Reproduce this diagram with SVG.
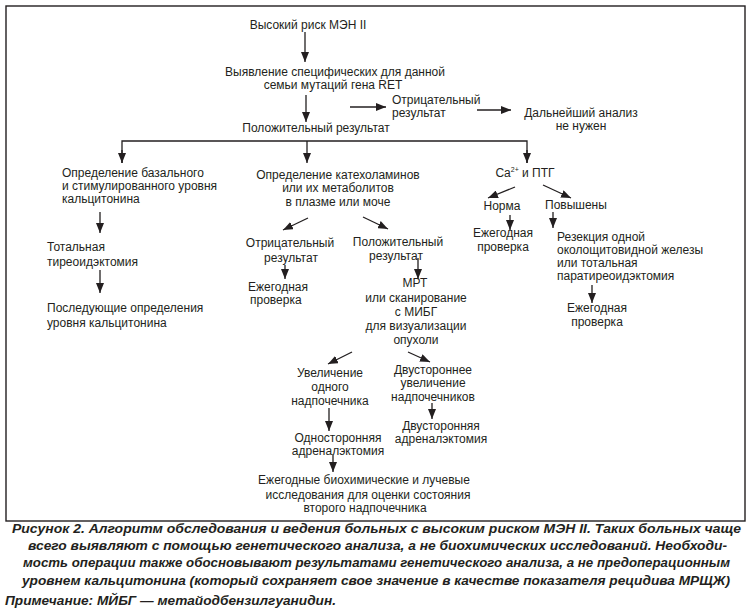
<svg xmlns="http://www.w3.org/2000/svg" width="751" height="614" viewBox="0 0 751 614">
<style>
.t{font-family:"Liberation Sans",Arial,sans-serif;font-size:12px;fill:#231f20}
.m{text-anchor:middle}
.c{font-family:"Liberation Sans",Arial,sans-serif;font-size:13.5px;font-weight:bold;font-style:italic;fill:#231f20}
.ln{stroke:#231f20;stroke-width:1.3;fill:none}
</style>
<defs>
<marker id="ah" viewBox="0 0 10 8" refX="10" refY="4" markerWidth="10" markerHeight="8" markerUnits="userSpaceOnUse" orient="auto">
<path d="M0,0 L10,4 L0,8 z" fill="#231f20"/>
</marker>
</defs>
<rect x="6" y="6" width="739" height="515" fill="none" stroke="#231f20" stroke-width="1.4"/>
<g id="connectors" class="ln" marker-end="url(#ah)">
<line x1="305" y1="32" x2="305" y2="62"/>
<line x1="306" y1="95" x2="306" y2="122"/>
<line x1="350" y1="107" x2="386" y2="107"/>
<line x1="477" y1="110" x2="511" y2="110"/>
<polyline points="122,163 122,141 527,141 527,163" marker-end="none"/>
<line x1="122" y1="150" x2="122" y2="163"/>
<line x1="527" y1="150" x2="527" y2="163"/>
<line x1="307" y1="141" x2="307" y2="163"/>
<line x1="100" y1="212" x2="100" y2="233"/>
<line x1="100" y1="270" x2="100" y2="293"/>
<line x1="308" y1="218" x2="283" y2="230"/>
<line x1="363" y1="217" x2="388" y2="229"/>
<line x1="285" y1="265" x2="285" y2="279"/>
<line x1="418" y1="258" x2="418" y2="279"/>
<line x1="352" y1="352" x2="328" y2="364"/>
<line x1="408" y1="352" x2="430" y2="362"/>
<line x1="432" y1="403" x2="432" y2="419"/>
<line x1="329" y1="408" x2="329" y2="431"/>
<line x1="333" y1="455" x2="333" y2="472"/>
<line x1="515" y1="187" x2="488" y2="198"/>
<line x1="543" y1="185" x2="571" y2="198"/>
<line x1="510" y1="215" x2="510" y2="230"/>
<line x1="553" y1="212" x2="553" y2="228"/>
<line x1="592" y1="285" x2="592" y2="303"/>
</g>
<g id="n-risk"><text class="t m" x="308" y="29">Высокий риск МЭН II</text></g>
<g id="n-ret"><text class="t m" x="335" y="76">Выявление специфических для данной</text><text class="t m" x="333" y="89">семьи мутаций гена RET</text></g>
<g id="n-neg1"><text class="t" x="392" y="104">Отрицательный</text><text class="t" x="392" y="117">результат</text></g>
<g id="n-nofurther"><text class="t m" x="581" y="117">Дальнейший анализ</text><text class="t m" x="581" y="130">не нужен</text></g>
<g id="n-pos1"><text class="t m" x="316" y="132">Положительный результат</text></g>
<g id="n-calc"><text class="t" x="62" y="177">Определение базального</text><text class="t" x="62" y="190">и стимулированного уровня</text><text class="t" x="62" y="203">кальцитонина</text></g>
<g id="n-thyr"><text class="t" x="47" y="251">Тотальная</text><text class="t" x="47" y="266">тиреоидэктомия</text></g>
<g id="n-follow"><text class="t" x="47" y="312">Последующие определения</text><text class="t" x="47" y="327">уровня кальцитонина</text></g>
<g id="n-cat"><text class="t m" x="338" y="179">Определение катехоламинов</text><text class="t m" x="338" y="192">или их метаболитов</text><text class="t m" x="338" y="206">в плазме или моче</text></g>
<g id="n-neg2"><text class="t m" x="290" y="247">Отрицательный</text><text class="t m" x="291" y="262">результат</text></g>
<g id="n-annual1"><text class="t" x="248" y="291">Ежегодная</text><text class="t" x="250" y="304">проверка</text></g>
<g id="n-pos2"><text class="t m" x="398" y="246">Положительный</text><text class="t m" x="396" y="260">результат</text></g>
<g id="n-mri"><text class="t m" x="415" y="287">МРТ</text><text class="t m" x="416" y="302">или сканирование</text><text class="t m" x="416" y="316">с МИБГ</text><text class="t m" x="416" y="330">для визуализации</text><text class="t m" x="416" y="344">опухоли</text></g>
<g id="n-uni"><text class="t m" x="330" y="377">Увеличение</text><text class="t m" x="330" y="391">одного</text><text class="t m" x="330" y="405">надпочечника</text></g>
<g id="n-bi"><text class="t m" x="433" y="374">Двустороннее</text><text class="t m" x="433" y="387">увеличение</text><text class="t m" x="433" y="401">надпочечников</text></g>
<g id="n-biadr"><text class="t m" x="441" y="430">Двусторонняя</text><text class="t m" x="441" y="443">адреналэктомия</text></g>
<g id="n-uniadr"><text class="t m" x="338" y="442">Односторонняя</text><text class="t m" x="338" y="455">адреналэктомия</text></g>
<g id="n-annual2"><text class="t m" x="364" y="484">Ежегодные биохимические и лучевые</text><text class="t m" x="368" y="499">исследования для оценки состояния</text><text class="t m" x="365" y="512">второго надпочечника</text></g>
<g id="n-ca"><text class="t m" x="525" y="177">Ca<tspan font-size="7" dy="-5">2+</tspan><tspan dy="5"> и ПТГ</tspan></text></g>
<g id="n-norm"><text class="t m" x="502" y="210">Норма</text></g>
<g id="n-annual3"><text class="t m" x="503" y="237">Ежегодная</text><text class="t m" x="503" y="251">проверка</text></g>
<g id="n-high"><text class="t" x="545" y="209">Повышены</text></g>
<g id="n-resect"><text class="t" x="557" y="241">Резекция одной</text><text class="t" x="557" y="254">околощитовидной железы</text><text class="t" x="557" y="267">или тотальная</text><text class="t" x="557" y="280">паратиреоидэктомия</text></g>
<g id="n-annual4"><text class="t m" x="597" y="312">Ежегодная</text><text class="t m" x="597" y="326">проверка</text></g>
<g id="caption">
<text class="c m" x="376.5" y="533" textLength="729" lengthAdjust="spacingAndGlyphs">Рисунок 2. Алгоритм обследования и ведения больных с высоким риском МЭН II. Таких больных чаще</text>
<text class="c m" x="377.5" y="550" textLength="699" lengthAdjust="spacingAndGlyphs">всего выявляют с помощью генетического анализа, а не биохимических исследований. Необходи-</text>
<text class="c m" x="376.5" y="567" textLength="707" lengthAdjust="spacingAndGlyphs">мость операции также обосновывают результатами генетического анализа, а не предоперационным</text>
<text class="c m" x="376" y="585" textLength="708" lengthAdjust="spacingAndGlyphs">уровнем кальцитонина (который сохраняет свое значение в качестве показателя рецидива МРЩЖ)</text>
<text class="c" x="5" y="605" textLength="331" lengthAdjust="spacingAndGlyphs">Примечание: МЙБГ — метайодбензилгуанидин.</text>
</g>
</svg>
